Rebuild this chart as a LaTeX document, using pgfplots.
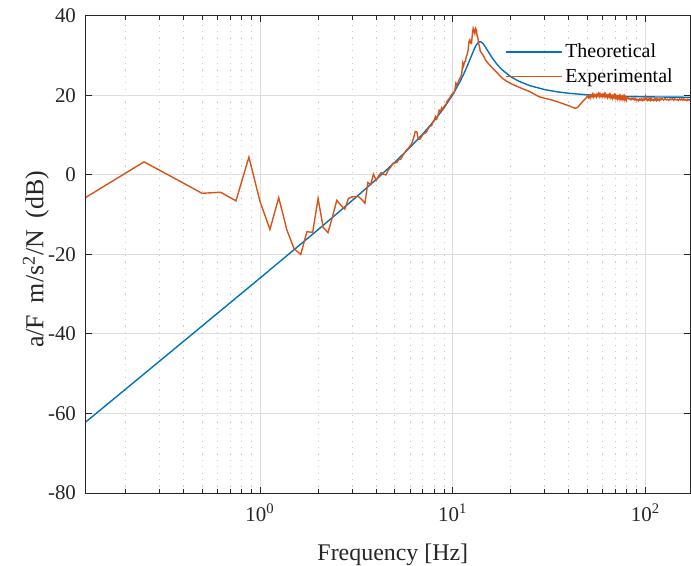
\documentclass[border=0pt]{standalone}
\usepackage{fontspec}
\setmainfont{Liberation Serif}
\usepackage{pgfplots}
\pgfplotsset{compat=1.18}
\definecolor{mblue}{RGB}{0,114,189}
\definecolor{morange}{RGB}{217,83,25}
\definecolor{axgray}{RGB}{38,38,38}

\begin{document}
\begin{tikzpicture}
\begin{axis}[
  scale only axis, width=302bp, height=238.5bp,
  xmode=log, log basis x=10,
  xmin=0.125, xmax=170, ymin=-80, ymax=40,
  xtick={1,10,100},
  xticklabels={10\textsuperscript{0},10\textsuperscript{1},10\textsuperscript{2}},
  minor xtick={0.2,0.3,0.4,0.5,0.6,0.7,0.8,0.9,2,3,4,5,6,7,8,9,20,30,40,50,60,70,80,90},
  ytick={-80,-60,-40,-20,0,20,40},
  yticklabels={-80,-60,-40,-20,0,20,40},
  tick align=inside, major tick length=3bp, minor tick length=2bp,
  xmajorgrids, xminorgrids, ymajorgrids,
  major grid style={color=black!13, line width=0.5bp},
  minor grid style={color=black!20, line width=0.5bp, dash pattern=on 0.6bp off 2.6bp},
  axis line style={axgray, line width=0.5bp},
  every tick/.style={axgray, line width=0.5bp},
  tick label style={font=\fontsize{10.5}{12}\selectfont, text=axgray},
  xticklabel style={yshift=-2bp},
  yticklabel style={xshift=-1.5bp},
  xlabel={Frequency [Hz]},
  ylabel={a/F\hspace{0.45em}m/s\textsuperscript{2}/N\hspace{0.45em}(dB)},
  label style={text=axgray},
  xlabel style={font=\fontsize{12}{14}\selectfont, at={(axis description cs:0.508,-0.142)}, anchor=base},
  ylabel style={font=\fontsize{13}{15}\selectfont, at={(axis description cs:-0.083,0.49)}, anchor=center},
  legend style={draw=none, fill=none, at={(rel axis cs:0.683,0.958)}, anchor=north west,
    font=\fontsize{10}{12}\selectfont, nodes={inner sep=1.5bp}, row sep=1bp},
  legend cell align=left,
  legend image code/.code={\draw[#1] (0bp,0bp) -- (28bp,0bp);},
]
\addplot[mblue, line width=0.7bp] coordinates {
(0.125,-62.09) (0.2,-53.93) (0.5,-38.0) (1,-25.92) (2,-13.75) (3,-6.46) (4,-1.13)
(5,3.20) (6,6.96) (7,10.38) (8,13.64) (9,16.88) (10,20.24) (11,23.87) (11.5,25.84)
(12,27.91) (12.5,30.03) (12.75,31.04) (13,31.97) (13.25,32.73) (13.5,33.26) (13.7,33.48)
(13.85,33.52) (14,33.47) (14.25,33.20) (14.5,32.76) (15,31.65) (15.5,30.52) (16,29.48)
(17,27.77) (18,26.48) (20,24.72) (22,23.59) (25,22.50) (30,21.47) (35,20.91) (40,20.56)
(50,20.16) (60,19.96) (80,19.75) (100,19.66) (130,19.60) (170,19.56)
};
\addlegendentry{Theoretical}
\addplot[morange, line width=0.7bp] coordinates {
(0.125,-5.6) (0.25,3.3) (0.375,-1.3) (0.5,-4.6) (0.625,-4.35) (0.75,-6.5) (0.875,4.5)
(1.0,-6.7) (1.125,-13.7) (1.25,-5.7) (1.375,-13.7) (1.5,-18.5) (1.625,-20.0) (1.75,-14.3)
(1.875,-14.4) (2.0,-5.9) (2.125,-13.2) (2.25,-14.5) (2.375,-10.5) (2.5,-6.4) (2.625,-7.6)
(2.75,-8.6) (2.875,-5.9) (3.0,-5.5) (3.125,-5.4) (3.25,-5.5) (3.375,-6.2) (3.5,-7.1)
(3.625,-1.9) (3.75,-2.4) (3.875,0.2) (4.0,-1.4) (4.125,-0.2) (4.25,0.6) (4.375,0.2)
(4.5,0.0) (4.625,1.3) (4.75,1.9) (4.875,2.9) (5.0,3.0) (5.125,3.2) (5.25,3.9) (5.375,4.0)
(5.5,4.9) (5.625,5.6) (5.75,6.3) (5.875,6.7) (6.0,7.3) (6.125,7.9) (6.25,9.2) (6.375,10.9)
(6.5,10.9) (6.625,9.0) (6.75,9.0) (6.875,9.6) (7.0,10.2) (7.125,10.5) (7.25,10.6)
(7.375,11.2) (7.5,11.9) (7.625,12.3) (7.75,12.4) (7.875,13.2) (8.0,13.8) (8.125,14.7)
(8.25,14.1) (8.375,15.0) (8.5,16.3) (8.625,16.0) (8.75,16.9) (8.875,16.5) (9.0,17.2)
(9.125,17.6) (9.25,17.9) (9.375,18.7) (9.5,19.0) (9.625,19.3) (9.75,19.9) (9.875,20.2)
(10.0,20.6) (10.125,20.6) (10.25,21.4) (10.375,23.1) (10.5,22.6) (10.625,23.2) (10.75,23.8)
(10.875,24.3) (11.0,24.7) (11.125,25.6) (11.25,28.1) (11.375,27.4) (11.5,28.5) (11.625,28.6)
(11.75,29.9) (11.875,30.3) (12.0,31.4) (12.125,33.5) (12.25,34.0) (12.375,33.2) (12.5,33.1)
(12.625,35.4) (12.75,36.9) (12.875,36.3) (13.0,35.6) (13.125,36.9) (13.25,36.5) (13.375,35.0)
(13.5,34.4) (13.625,33.0) (13.75,32.3) (13.875,31.2) (14.0,30.9) (14.125,30.6) (14.25,30.4)
(14.5,29.8) (14.75,29.0) (15.0,28.5) (15.5,27.7) (16.0,27.0) (16.5,26.3) (17.0,25.7)
(17.5,25.0) (18.0,24.4) (19.0,23.6) (20.0,23.0) (22.0,22.1) (25.0,21.0) (28.0,19.7)
(30.0,19.3) (33.0,18.8) (37.0,18.0) (40.0,17.4) (43.0,16.8) (44.0,16.9) (45.0,17.3)
(46.0,17.9) (47.0,18.4) (48.0,18.9) (49.0,19.3)
(50.0,19.95) (50.5,19.45) (51.0,19.8) (51.5,19.35) (52.0,20.1) (52.5,19.75) (53.0,20.3)
(53.5,19.6) (54.0,20.3) (54.5,19.8) (55.0,20.1) (55.5,19.6) (56.0,20.3) (56.5,19.95)
(57.0,20.45) (57.5,19.75) (58.0,20.4) (58.5,19.85) (59.0,20.15) (59.5,19.6) (60.0,20.25)
(60.5,19.9) (61.0,20.4) (61.5,19.7) (62.0,20.3) (62.5,19.75) (63.0,20.0) (63.5,19.5)
(64.0,20.1) (64.5,19.75) (65.0,20.2) (65.5,19.5) (66.0,20.1) (66.5,19.55) (67.0,19.85)
(67.5,19.3) (68.0,19.95) (68.5,19.6) (69.0,20.05) (69.5,19.35) (70.0,19.95) (70.5,19.4)
(71.0,19.7) (71.5,19.2) (72.0,19.75) (72.5,19.4) (73.0,19.85) (73.5,19.2) (74.0,19.8)
(74.5,19.25) (75.0,19.55) (75.5,19.0) (76.0,19.65) (76.5,19.3) (77.0,19.75) (77.5,19.05)
(78.0,19.7) (78.5,19.15) (79.0,19.45) (79.5,18.95) (80.0,19.55)
(81,19.46) (82,19.11) (83,19.26) (84,18.92) (85,19.28) (86,19.03) (87,19.30) (88,18.84)
(89,19.19) (90,18.83) (91,19.0) (92,18.70) (93,19.09) (94,18.88) (95,19.18) (96,18.74)
(97,19.12) (98,18.80) (99,18.96) (100,19.8) (101,19.04) (102,18.75) (103,19.14) (104,18.84)
(105,19.22) (106,18.76) (107,19.18) (108,18.85) (109,18.99) (110,18.73) (111,19.1)
(112,18.86) (113,19.21) (114,18.78) (115,19.16) (116,18.88) (117,19.04) (118,18.77)
(119,19.16) (120,18.94) (122,19.24) (124,18.84) (126,19.2) (128,18.9) (130,19.06)
(132,18.8) (134,19.15) (136,18.95) (138,19.2) (140,18.8) (142,19.2) (144,18.9) (146,19.05)
(148,18.75) (150,19.1) (152,18.88) (154,19.2) (156,18.8) (158,19.15) (160,18.85) (162,19.0)
(164,18.72) (166,19.1) (168,18.8) (170,19.05)
};
\addlegendentry{Experimental}
\end{axis}
\pgfresetboundingbox
\path (current axis.south west) ++(-43bp,-36.5bp) rectangle ([shift={(0.5bp,8bp)}]current axis.north east);
\end{tikzpicture}
\end{document}
